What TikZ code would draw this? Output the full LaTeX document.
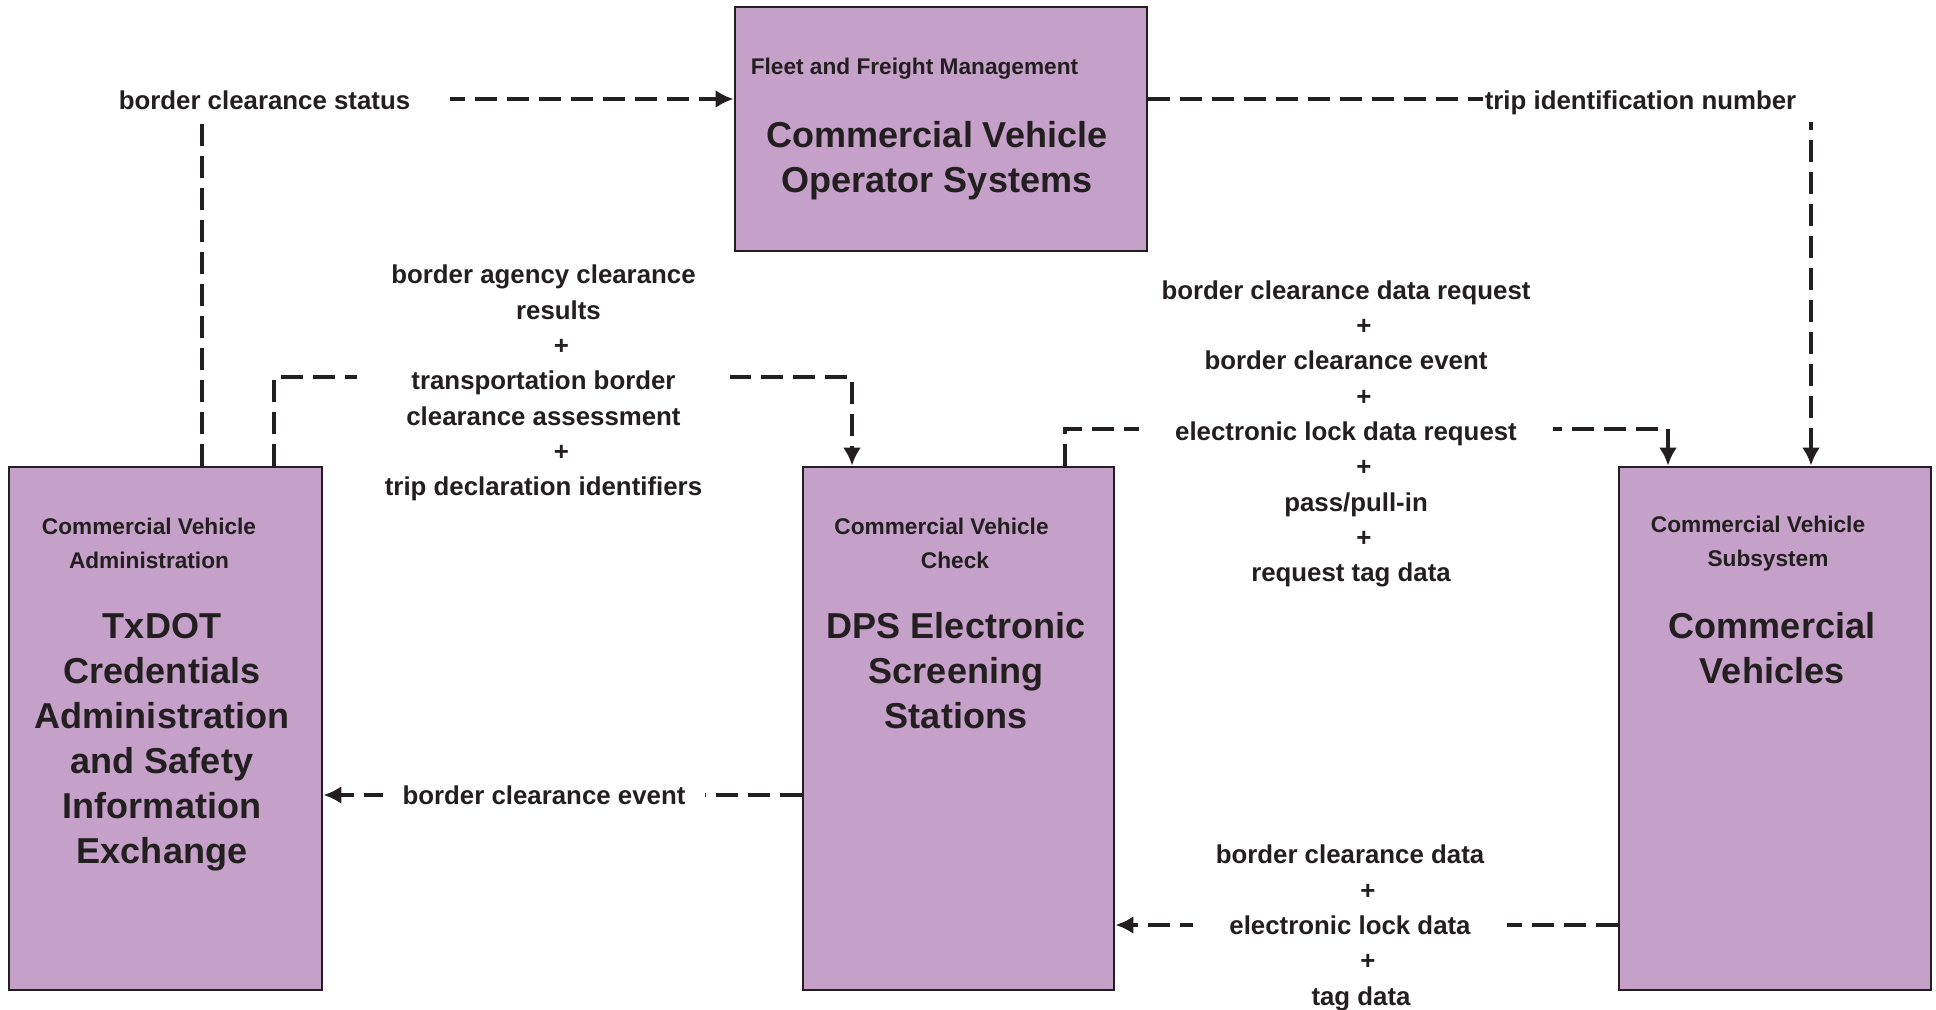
\documentclass[tikz,border=0pt]{standalone}
\usepackage{fontspec}
\setmainfont{Liberation Sans}
\usetikzlibrary{arrows.meta}

\definecolor{boxpurple}{RGB}{197,160,201}
\definecolor{inkgray}{RGB}{35,31,32}
\newcommand{\flowplus}{\hspace*{0.72cm}+}

\begin{document}
\begin{tikzpicture}[
        sysbox/.style={draw=inkgray, line width=1.6pt, fill=boxpurple, inner sep=0pt,
            minimum width=6.24cm, minimum height=10.46cm},
        headtxt/.style={text=inkgray, align=center, font=\fontsize{12.9}{19.3}\selectfont\bfseries},
        titletxt/.style={text=inkgray, align=center, font=\fontsize{20.5}{25.6}\selectfont\bfseries},
        flowlbl/.style={fill=white, text=inkgray, align=center, inner ysep=2pt,
            font=\fontsize{14.7}{20.1}\selectfont\bfseries},
        flow/.style={draw=inkgray, line width=2.3pt, dash pattern=on 0.44cm off 0.2cm},
        >={Latex[length=0.36cm,width=0.36cm]}
    ]
        \useasboundingbox (0,0) rectangle (38.72,-20.18);

        % systems
        \node[sysbox, minimum width=8.24cm, minimum height=4.88cm] (cvo) at (18.82,-2.58) {};
        \node[sysbox, minimum width=6.26cm] (txdot) at (3.31,-14.57) {};
        \node[sysbox, minimum width=6.22cm] (dps) at (19.17,-14.57) {};
        \node[sysbox] (cv) at (35.5,-14.57) {};

        \node[headtxt] (cvohead) at (18.29,-1.37) {Fleet and Freight Management};
        \node[titletxt] (cvotitle) at (18.74,-3.22) {Commercial Vehicle\\Operator Systems};
        \node[headtxt] (txdothead) at (2.98,-10.86) {Commercial Vehicle\\Administration};
        \node[titletxt] (txdottitle) at (3.24,-14.85) {TxDOT\\Credentials\\Administration\\and Safety\\Information\\Exchange};
        \node[headtxt] (dpshead) at (18.83,-10.86) {Commercial Vehicle\\\hspace*{0.54cm}Check};
        \node[titletxt] (dpstitle) at (19.12,-13.42) {DPS Electronic\\Screening\\Stations};
        \node[headtxt] (cvhead) at (35.16,-10.88) {Commercial Vehicle\\\hspace*{0.4cm}Subsystem};
        \node[titletxt] (cvtitle) at (35.44,-12.97) {Commercial\\Vehicles};

        % turning points
        \coordinate (statusturn) at (4.04,-1.98);
        \coordinate (tripturn) at (36.22,-1.98);
        \coordinate (agencyturnL) at (5.48,-7.54);
        \coordinate (agencyturnR) at (17.04,-7.54);
        \coordinate (requestturnL) at (21.3,-8.58);
        \coordinate (requestturnR) at (33.36,-8.58);
        \coordinate (eventline) at (0,-15.9);
        \coordinate (dataline) at (0,-18.5);

        % flows
        \path[flow,->] (statusturn |- txdot.north) -- (statusturn) -- (statusturn -| cvo.west);
        \path[flow,->] (tripturn -| cvo.east) -- (tripturn) -- (tripturn |- cv.north);
        \path[flow,->] (agencyturnL |- txdot.north) -- (agencyturnL) -- (agencyturnR) -- (agencyturnR |- dps.north);
        \path[flow,->] (requestturnL |- dps.north) -- (requestturnL) -- (requestturnR) -- (requestturnR |- cv.north);
        \path[flow,->] (eventline -| dps.west) -- (eventline -| txdot.east);
        \path[flow,->] (dataline -| cv.west) -- (dataline -| dps.east);

        % flow labels
        \node[flowlbl, inner xsep=0.8cm, inner ysep=4pt, text height=11pt, text depth=3.2pt] (statuslbl)
            at (5.29,-2.05) {border clearance status};
        \node[flowlbl, inner xsep=1pt, inner ysep=4pt, text height=11pt, text depth=3.2pt] (triplbl)
            at (33.01,-2.05) {trip identification number\hspace*{0.4cm}};
        \node[flowlbl, inner xsep=0.55cm] (agencylbl) at (10.87,-7.66)
            {border agency clearance\\\hspace*{0.6cm}results\\\flowplus\\transportation border\\clearance assessment\\\flowplus\\trip declaration identifiers};
        \node[flowlbl, inner xsep=0.45cm] (requestlbl) at (26.92,-8.68)
            {border clearance data request\\\flowplus\\border clearance event\\\flowplus\\electronic lock data request\\\flowplus\\\hspace*{0.4cm}pass/pull-in\\\flowplus\\\hspace*{0.2cm}request tag data};
        \node[flowlbl, inner xsep=0.4cm] (eventlbl) at (10.88,-15.9) {border clearance event};
        \node[flowlbl, inner xsep=0.45cm] (datalbl) at (27.0,-18.56)
            {border clearance data\\\flowplus\\electronic lock data\\\flowplus\\\hspace*{0.44cm}tag data};
    \end{tikzpicture}
\end{document}
